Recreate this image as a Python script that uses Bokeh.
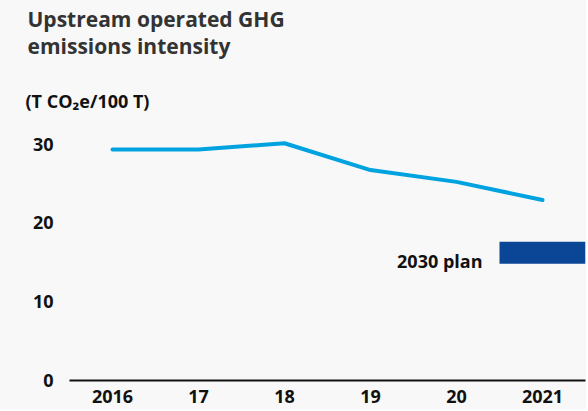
from bokeh.plotting import figure
from bokeh.layouts import column
from bokeh.models import FixedTicker, Label, FactorRange, Range1d, BoxAnnotation
from bokeh.embed import file_html
from bokeh.resources import INLINE

# ---- data ----
year_labels = ["2016", "17", "18", "19", "20", "2021"]
intensity = [29.3, 29.3, 30.1, 26.7, 25.2, 22.9]
plan_label = "2030 plan"
plan_year = ["2021"]
plan_low = [14.8]
plan_high = [17.6]
y_ticks = [0, 10, 20, 30]
title_lines = ["Upstream operated GHG", "emissions intensity"]
unit_text = "(T CO\u2082e/100 T)"

BG = "#f8f8f8"
FONT = "Open Sans"
W = 586
HEAD_H = 118
MAIN_H = 291
SHIFT = 8  # empirical correction for label baseline placement

# ---- header (title + unit) ----
head = figure(width=W, height=HEAD_H, x_range=Range1d(0, W), y_range=Range1d(0, HEAD_H),
              output_backend="svg", toolbar_location=None,
              x_axis_location=None, y_axis_location=None,
              min_border=0)
head.frame_align = False
head.background_fill_color = BG
head.border_fill_color = BG
head.outline_line_color = None
head.xgrid.visible = False
head.ygrid.visible = False

head.add_layout(Label(x=27, y=HEAD_H - 26.7 + SHIFT, x_units="screen", y_units="screen",
                      text=title_lines[0], text_font=FONT, text_font_size="21px",
                      text_font_style="bold", text_color="#333333",
                      text_baseline="alphabetic"))
head.add_layout(Label(x=27, y=HEAD_H - 53.3 + SHIFT, x_units="screen", y_units="screen",
                      text=title_lines[1], text_font=FONT, text_font_size="21px",
                      text_font_style="bold", text_color="#333333",
                      text_baseline="alphabetic"))
head.add_layout(Label(x=25, y=HEAD_H - 108.3 + SHIFT, x_units="screen", y_units="screen",
                      text=unit_text, text_font=FONT, text_font_size="18px",
                      text_font_style="bold", text_color="#111111",
                      text_baseline="alphabetic"))

# ---- main chart ----
p = figure(width=W, height=MAIN_H,
           x_range=FactorRange(*year_labels, range_padding=0),
           y_range=Range1d(0, 33.24),
           output_backend="svg", toolbar_location=None,
           min_border_left=69, min_border_right=1,
           min_border_top=0, min_border_bottom=29)
p.frame_align = False
p.background_fill_color = BG
p.border_fill_color = BG
p.outline_line_color = None
p.xgrid.visible = False
p.ygrid.visible = False

# plan bar: spans the full band of the last category
plan_idx = [year_labels.index(c) for c in plan_year]
p.add_layout(BoxAnnotation(left=plan_idx[0], right=plan_idx[0] + 1,
                           bottom=plan_low[0], top=plan_high[0],
                           fill_color="#0b4596", fill_alpha=1.0,
                           line_color=None, level="glyph"))

# intensity line
p.line(x=year_labels, y=intensity, line_width=4, line_color="#00a3df",
       line_cap="round", line_join="round")

# x axis
xa = p.xaxis[0]
xa.axis_line_color = "#111111"
xa.axis_line_width = 2
xa.major_tick_line_color = None
xa.minor_tick_line_color = None
xa.major_tick_out = 0
xa.major_tick_in = 0
xa.major_label_standoff = 9
xa.major_label_text_font = FONT
xa.major_label_text_font_size = "18px"
xa.major_label_text_font_style = "bold"
xa.major_label_text_color = "#111111"

# y axis
ya = p.yaxis[0]
ya.ticker = FixedTicker(ticks=y_ticks)
ya.axis_line_color = None
ya.major_tick_line_color = None
ya.minor_tick_line_color = None
ya.major_tick_out = 0
ya.major_tick_in = 0
ya.major_label_standoff = 16
ya.major_label_text_font = FONT
ya.major_label_text_font_size = "18px"
ya.major_label_text_font_style = "bold"
ya.major_label_text_color = "#111111"

# plan label, left of the plan bar
p.add_layout(Label(x=plan_idx[0], y=plan_low[0], x_offset=-17, y_offset=3,
                   text=plan_label, text_font=FONT, text_font_size="18px",
                   text_font_style="bold", text_color="#111111",
                   text_align="right", text_baseline="alphabetic"))

layout = column(head, p, spacing=0)
layout.styles = {"background-color": BG}

html = file_html(layout, INLINE)
html = html.replace("<body>", '<body style="background-color:%s">' % BG, 1)
open("out.html", "w").write(html)
